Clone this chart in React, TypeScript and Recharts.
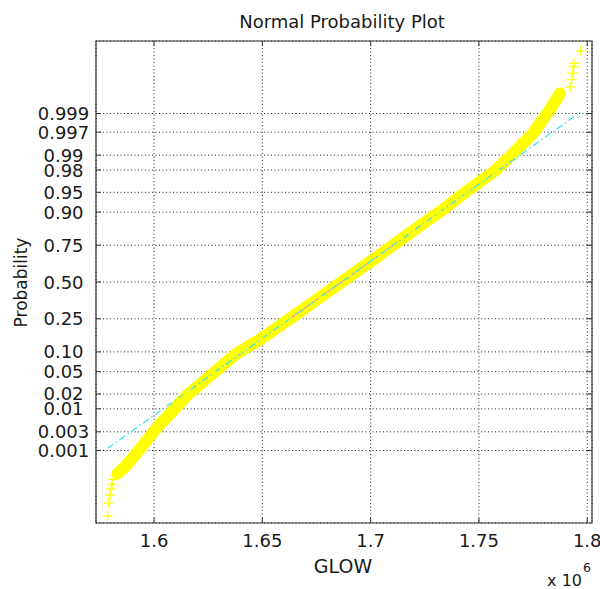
import React from 'react';
import { ComposedChart, Line, Scatter, XAxis, YAxis, CartesianGrid, ReferenceArea } from 'recharts';

// GLOW values (x 10^6) of the plotted sample points
const glowValues = [
  1.5786, 1.5791, 1.5797, 1.5802, 1.5806, 1.5812, 1.5821, 1.5832, 1.5863, 1.5894,
  1.5925, 1.5955, 1.5986, 1.6017, 1.6055, 1.6089, 1.6154, 1.6277, 1.6382, 1.6499,
  1.6628, 1.6766, 1.6905, 1.7043, 1.7182, 1.7320, 1.7436, 1.7574, 1.7651, 1.7750,
  1.7813, 1.7847, 1.7874, 1.7921, 1.7928, 1.7933, 1.7936, 1.7939, 1.7970,
];
// normal scores (probability axis, in standard-normal quantile units)
const normalScores = [
  -4.29, -4.05, -3.91, -3.80, -3.71, -3.62, -3.56, -3.51, -3.40, -3.26,
  -3.11, -2.96, -2.81, -2.65, -2.50, -2.35, -2.07, -1.66, -1.31, -1.03,
  -0.67, -0.28, 0.11, 0.50, 0.90, 1.29, 1.64, 2.04, 2.33, 2.73,
  3.08, 3.28, 3.46, 3.58, 3.71, 3.83, 3.95, 4.01, 4.24,
];
// the dense (overlapping markers) part of the sample
const denseFrom = 7;
const denseTo = 33;

// dashed reference line, min..max of the data
const refLineGlow = [1.5786, 1.797];
const refLineScore = [-3.05, 3.12];
// solid segment between the quartiles
const quartileGlow = [1.6627, 1.7104];
const quartileScore = [-0.674, 0.674];

const xTickValues = [1.6, 1.65, 1.7, 1.75, 1.8];
const xTickLabels = ['1.6', '1.65', '1.7', '1.75', '1.8'];
const probTickValues = [0.001, 0.003, 0.01, 0.02, 0.05, 0.1, 0.25, 0.5, 0.75, 0.9, 0.95, 0.98, 0.99, 0.997, 0.999];
const probTickLabels = ['0.001', '0.003', '0.01', '0.02', '0.05', '0.10', '0.25', '0.50', '0.75', '0.90', '0.95', '0.98', '0.99', '0.997', '0.999'];

const xDomain: [number, number] = [1.5732, 1.8022];
const yDomain: [number, number] = [-4.42, 4.42];

// inverse standard normal CDF (Acklam) – probability axis transform
function norminv(p: number): number {
  const a = [-39.69683028665376, 220.9460984245205, -275.9285104469687, 138.357751867269, -30.66479806614716, 2.506628277459239];
  const b = [-54.47609879822406, 161.5858368580409, -155.6989798598866, 66.80131188771972, -13.28068155288572];
  const c = [-0.007784894002430293, -0.3223964580411365, -2.400758277161838, -2.549732539343734, 4.374664141464968, 2.938163982698783];
  const d = [0.007784695709041462, 0.3224671290700398, 2.445134137142996, 3.754408661907416];
  const pl = 0.02425;
  if (p < pl) {
    const q = Math.sqrt(-2 * Math.log(p));
    return (((((c[0] * q + c[1]) * q + c[2]) * q + c[3]) * q + c[4]) * q + c[5]) / ((((d[0] * q + d[1]) * q + d[2]) * q + d[3]) * q + 1);
  }
  if (p > 1 - pl) {
    const q = Math.sqrt(-2 * Math.log(1 - p));
    return -(((((c[0] * q + c[1]) * q + c[2]) * q + c[3]) * q + c[4]) * q + c[5]) / ((((d[0] * q + d[1]) * q + d[2]) * q + d[3]) * q + 1);
  }
  const q = p - 0.5;
  const r = q * q;
  return ((((((a[0] * r + a[1]) * r + a[2]) * r + a[3]) * r + a[4]) * r + a[5]) * q) / (((((b[0] * r + b[1]) * r + b[2]) * r + b[3]) * r + b[4]) * r + 1);
}

const yTickValues = probTickValues.map(norminv);

const points = glowValues.map((g, i) => ({ g, z: normalScores[i] }));
const densePoints = points.slice(denseFrom, denseTo);
const refLine = refLineGlow.map((g, i) => ({ g, z: refLineScore[i] }));
const quartileLine = quartileGlow.map((g, i) => ({ g, z: quartileScore[i] }));

const FONT = '"DejaVu Sans", Arial, sans-serif';
const TEXT = '#1a1a1a';
const FRAME = '#333333';
const PLOT_W = 496;
const PLOT_H = 482;

const XTick = (props: any) => {
  const { x, y, payload } = props;
  const idx = xTickValues.findIndex((v) => Math.abs(v - payload.value) < 1e-9);
  return (
    <g>
      <line x1={x} x2={x} y1={y} y2={y - 5} stroke={FRAME} />
      <line x1={x} x2={x} y1={y - PLOT_H} y2={y - PLOT_H + 5} stroke={FRAME} />
      <text x={x} y={y + 23.5} textAnchor="middle" fontFamily={FONT} fontSize={18} fill={TEXT}>
        {idx >= 0 ? xTickLabels[idx] : ''}
      </text>
    </g>
  );
};

const YTick = (props: any) => {
  const { x, y, payload } = props;
  const idx = yTickValues.findIndex((v) => Math.abs(v - payload.value) < 1e-6);
  return (
    <g>
      <line x1={x} x2={x + 5} y1={y} y2={y} stroke={FRAME} />
      <line x1={x + PLOT_W} x2={x + PLOT_W - 5} y1={y} y2={y} stroke={FRAME} />
      <text x={x - 32.5} y={y + 6.5} textAnchor="middle" fontFamily={FONT} fontSize={18} fill={TEXT}>
        {idx >= 0 ? probTickLabels[idx] : ''}
      </text>
    </g>
  );
};

const PlusMarker = (props: any) => {
  const { cx, cy } = props;
  if (cx == null || cy == null) return null;
  return (
    <path d={`M${cx - 5},${cy}h10M${cx},${cy - 5}v10`} stroke="#ffff00" strokeWidth={1.3} fill="none" />
  );
};

export default function App() {
  return (
    <div style={{ position: 'absolute', left: 0, top: 0, width: 600, height: 589, background: '#fff' }}>
      <ComposedChart
        width={600}
        height={589}
        margin={{ top: 41, right: 8, bottom: 0, left: 0 }}
      >
        <CartesianGrid stroke="#222" strokeDasharray="1 2.5" ticks={undefined} />
        <XAxis
          type="number"
          dataKey="g"
          domain={xDomain}
          allowDataOverflow
          ticks={xTickValues}
          interval={0}
          height={66}
          tickSize={0}
          tickMargin={0}
          tickLine={false}
          axisLine={false}
          tick={<XTick />}
        />
        <YAxis
          type="number"
          dataKey="z"
          domain={yDomain}
          allowDataOverflow
          ticks={yTickValues}
          interval={0}
          width={96}
          tickSize={0}
          tickMargin={0}
          tickLine={false}
          axisLine={false}
          tick={<YTick />}
        />
        <Line
          data={densePoints}
          dataKey="z"
          stroke="#ffff00"
          strokeWidth={12}
          strokeLinecap="round"
          strokeLinejoin="round"
          dot={false}
          activeDot={false}
          isAnimationActive={false}
          legendType="none"
        />
        <Scatter data={points} dataKey="z" shape={<PlusMarker />} isAnimationActive={false} legendType="none" />
        <Line
          data={quartileLine}
          dataKey="z"
          stroke="#ff7fc8"
          strokeWidth={1}
          dot={false}
          activeDot={false}
          isAnimationActive={false}
          legendType="none"
        />
        <Line
          data={refLine}
          dataKey="z"
          stroke="#33e6f0"
          strokeWidth={1.2}
          strokeDasharray="7 3 1.5 3"
          dot={false}
          activeDot={false}
          isAnimationActive={false}
          legendType="none"
        />
        <ReferenceArea
          x1={xDomain[0]}
          x2={xDomain[1]}
          y1={yDomain[0]}
          y2={yDomain[1]}
          fill="none"
          fillOpacity={0}
          stroke={FRAME}
          strokeWidth={1.2}
          ifOverflow="visible"
        />
      </ComposedChart>
      <svg
        width={600}
        height={589}
        style={{ position: 'absolute', left: 0, top: 0, pointerEvents: 'none' }}
      >
        <text x={342} y={28} textAnchor="middle" fontFamily={FONT} fontSize={18} fill={TEXT}>
          Normal Probability Plot
        </text>
        <text x={343} y={573} textAnchor="middle" fontFamily={FONT} fontSize={19} fill={TEXT}>
          GLOW
        </text>
        <text
          x={26.5}
          y={282.5}
          textAnchor="middle"
          fontFamily={FONT}
          fontSize={17}
          fill={TEXT}
          transform="rotate(-90 26.5 282.5)"
        >
          Probability
        </text>
        <text x={582} y={586} textAnchor="end" fontFamily={FONT} fontSize={16} fill={TEXT}>
          x 10
        </text>
        <text x={583} y={572} textAnchor="start" fontFamily={FONT} fontSize={12.5} fill={TEXT}>
          6
        </text>
      </svg>
    </div>
  );
}
